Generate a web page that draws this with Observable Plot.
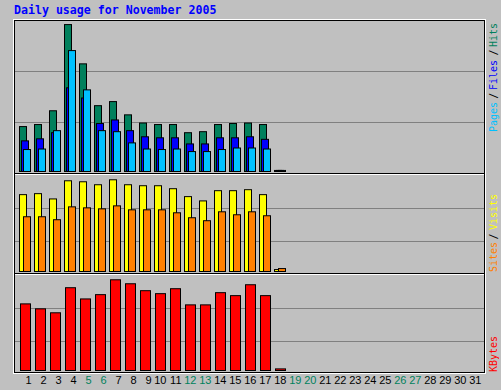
<!DOCTYPE html>
<html>
<head>
<meta charset="utf-8">
<script src="https://cdn.jsdelivr.net/npm/d3@7"></script>
<script src="https://cdn.jsdelivr.net/npm/@observablehq/plot@0.6"></script>
<style>
html, body { margin: 0; padding: 0; background: #c0c0c0; }
#chart { position: relative; width: 501px; height: 390px; overflow: hidden; background: #c0c0c0; }
#chart svg { position: absolute; left: 0; top: 0; }
</style>
</head>
<body>
<div id="chart"></div>
<script>
// ---- Data (relative units, each panel scaled 0..300) ----
const days = d3.range(1, 32);                 // 1..31 November 2005
const dataDays = d3.range(1, 19);             // days with data: 1..18
const weekendDays = [5, 6, 12, 13, 19, 20, 26, 27];
const hits   = [92, 96, 123, 292, 215, 133, 141, 115, 99, 96, 96, 80, 82, 96, 98, 99, 96, 6];
const files  = [64, 68, 80, 168, 148, 98, 105, 84, 72, 70, 70, 58, 58, 70, 70, 72, 67, 6];
const pages  = [47, 48, 84, 241, 164, 84, 82, 60, 48, 47, 48, 43, 43, 47, 50, 50, 48, 6];
const visits = [242, 245, 229, 284, 281, 272, 287, 272, 269, 269, 260, 236, 223, 254, 254, 257, 242, 15];
const sites  = [175, 175, 166, 205, 202, 199, 208, 196, 196, 196, 187, 172, 163, 190, 181, 190, 178, 18];
const kbytes = [214, 199, 187, 263, 229, 242, 287, 275, 254, 245, 260, 211, 211, 248, 239, 272, 239, 17];
const gridValues = [100, 200];
const titleText = "Daily usage for November 2005";

const C = {
  hits: "#00805c", files: "#0000ff", pages: "#00c0ff",
  visits: "#ffff00", sites: "#ff8000", kbytes: "#ff0000",
  grid: "#808080", bg: "#c0c0c0", title: "#0000ff"
};

const table = dataDays.map((day, i) => ({
  day, hits: hits[i], files: files[i], pages: pages[i],
  visits: visits[i], sites: sites[i], kbytes: kbytes[i]
}));

const W = 501, H = 390;
const chart = document.getElementById("chart");
const xScale = {type: "band", domain: days, range: [17.5, 482.5], padding: 0, round: false, axis: null};
const baseOpts = {
  width: W, height: H,
  marginLeft: 15, marginRight: 17, marginTop: 0, marginBottom: 0,
  style: {background: "transparent", overflow: "visible"},
  x: xScale
};

function crisp(svg) {
  for (const g of svg.querySelectorAll('g[aria-label="bar"], g[aria-label="rule"]')) g.removeAttribute("transform");
  return svg;
}

function panel(yRange, inset, series) {
  return crisp(Plot.plot({
    ...baseOpts,
    y: {domain: [0, 300], range: yRange, axis: null},
    marks: [
      Plot.ruleY(gridValues, {stroke: C.grid}),
      ...series.map(s => Plot.barY(table, {
        x: "day", y: s.key, fill: C[s.key], stroke: "#000",
        insetLeft: s.l, insetRight: s.r, insetBottom: inset
      }))
    ]
  }));
}

// Panel 1: Hits / Files / Pages
chart.appendChild(panel([173.5, 20.5], 2, [
  {key: "hits", l: 2, r: 6},
  {key: "files", l: 4, r: 4},
  {key: "pages", l: 6, r: 2}
]));
// Panel 2: Visits / Sites
chart.appendChild(panel([274.5, 175.5], 3, [
  {key: "visits", l: 2, r: 6},
  {key: "sites", l: 6, r: 2}
]));
// Panel 3: KBytes
chart.appendChild(panel([374.5, 275.5], 4, [
  {key: "kbytes", l: 3, r: 2}
]));

// Day labels
chart.appendChild(Plot.plot({
  ...baseOpts,
  marginBottom: 7,
  marks: [
    Plot.text(days.filter(d => !weekendDays.includes(d)), {
      x: d => d, text: d => String(d), frameAnchor: "bottom", textAnchor: "end", dx: 6,
      fill: "#000", fontSize: 11, fontFamily: "Liberation Sans, Arial, sans-serif"
    }),
    Plot.text(days.filter(d => weekendDays.includes(d)), {
      x: d => d, text: d => String(d), frameAnchor: "bottom", textAnchor: "end", dx: 6,
      fill: C.hits, fontSize: 11, fontFamily: "Liberation Sans, Arial, sans-serif"
    })
  ]
}));

// Frames, title and side legends
const svg = d3.select(chart).append("svg").attr("width", W).attr("height", H);
function line(x1, y1, x2, y2, c) {
  svg.append("line").attr("x1", x1).attr("y1", y1).attr("x2", x2).attr("y2", y2)
    .attr("stroke", c).attr("stroke-width", 1).attr("shape-rendering", "crispEdges");
}
svg.append("rect").attr("x", 13.5).attr("y", 19.5).attr("width", 472).attr("height", 354)
  .attr("fill", "none").attr("stroke", "#fff");
svg.append("rect").attr("x", 14.5).attr("y", 20.5).attr("width", 470).attr("height", 352)
  .attr("fill", "none").attr("stroke", "#000");
line(15, 173.5, 484, 173.5, "#000");
line(15, 174.5, 484, 174.5, "#fff");
line(15, 273.5, 484, 273.5, "#000");
line(15, 274.5, 484, 274.5, "#fff");

svg.append("text").attr("x", 14).attr("y", 14)
  .attr("font-family", "DejaVu Sans Mono, monospace").attr("font-weight", "bold")
  .attr("font-size", 11.6).attr("fill", C.title).text(titleText);

const sideLabels = [
  {t: "Pages", y: 132, c: C.pages},
  {t: "/", y: 98.8, c: "#000"},
  {t: "Files", y: 90, c: C.files},
  {t: "/", y: 55.5, c: "#000"},
  {t: "Hits", y: 47, c: C.hits},
  {t: "Sites", y: 272, c: C.sites},
  {t: "/", y: 239.5, c: "#000"},
  {t: "Visits", y: 230, c: C.visits},
  {t: "KBytes", y: 372, c: C.kbytes}
];
for (const s of sideLabels) {
  svg.append("text").attr("transform", `translate(497,${s.y}) rotate(-90)`)
    .attr("font-family", "DejaVu Sans Mono, monospace").attr("font-size", 10)
    .attr("fill", s.c).text(s.t);
}
</script>
</body>
</html>
